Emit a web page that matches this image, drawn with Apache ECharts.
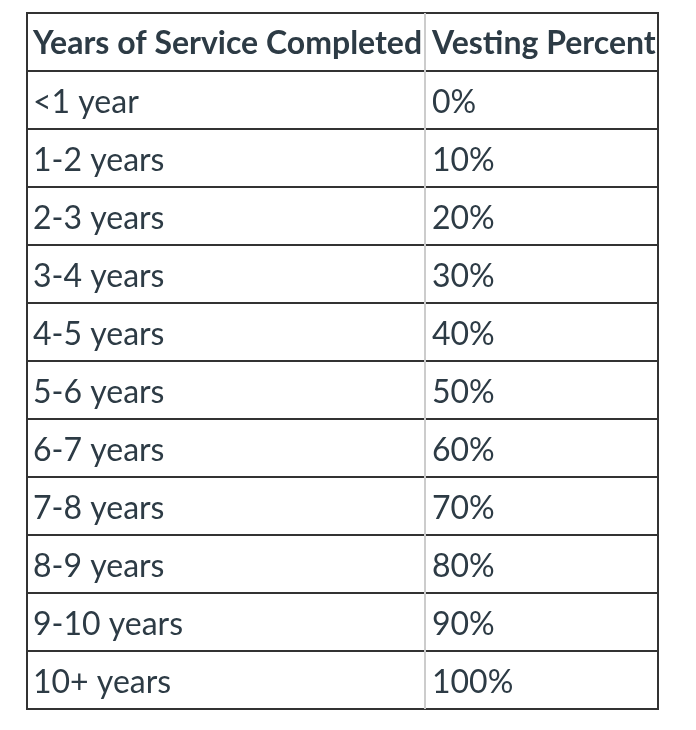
<!DOCTYPE html>
<html>
<head>
<meta charset="utf-8">
<script src="https://cdn.jsdelivr.net/npm/echarts@6/dist/echarts.min.js"></script>
<style>html,body{margin:0;padding:0;background:#fff}#c{width:696px;height:730px}</style>
</head>
<body>
<div id="c"></div>
<script>
// ---- data ----
const headers = ['Years of Service Completed', 'Vesting Percent'];
const years = ['<1 year', '1-2 years', '2-3 years', '3-4 years', '4-5 years', '5-6 years',
               '6-7 years', '7-8 years', '8-9 years', '9-10 years', '10+ years'];
const vesting = [0, 10, 20, 30, 40, 50, 60, 70, 80, 90, 100];

// ---- layout ----
const colEdges = [0, 398, 631];
const TEXT = '#2d3b45';
const DARK = '#333333';
const LIGHT = '#cccccc';

const rowLabels = ['header'].concat(years);
const cells = [];
rowLabels.forEach((r, ri) => {
  for (let c = 0; c < 2; c++) {
    let txt;
    if (ri === 0) txt = headers[c];
    else txt = c === 0 ? years[ri - 1] : vesting[ri - 1] + '%';
    cells.push([c, ri, txt]);
  }
});

const chart = echarts.init(document.getElementById('c'), null, {renderer: 'canvas'});
chart.setOption({
  animation: false,
  backgroundColor: '#fff',
  grid: {left: 27, right: 38, top: 13, bottom: 21},
  xAxis: {type: 'value', min: 0, max: colEdges[2], show: false},
  yAxis: {type: 'category', data: rowLabels, inverse: true, show: false},
  series: [{
    type: 'custom',
    data: cells,
    encode: {x: 0, y: 1},
    renderItem: function (params, api) {
      const c = api.value(0);
      const r = api.value(1);
      const txt = cells[params.dataIndex][2];
      const h = api.size([0, 1])[1];
      const pL = api.coord([colEdges[c], r]);
      const pR = api.coord([colEdges[c + 1], r]);
      const x0 = pL[0], x1 = pR[0];
      const yT = pL[1] - h / 2, yB = pL[1] + h / 2;
      const children = [];
      children.push({type: 'rect', shape: {x: x0, y: yT, width: x1 - x0, height: h},
        style: {fill: '#fff'}, z2: 0});
      children.push({type: 'line', shape: {x1: x0, y1: yT, x2: x1, y2: yT},
        style: {stroke: DARK, lineWidth: 2}, z2: 2});
      if (r === rowLabels.length - 1) {
        children.push({type: 'line', shape: {x1: x0, y1: yB, x2: x1, y2: yB},
          style: {stroke: DARK, lineWidth: 2}, z2: 2});
      }
      if (c === 0) {
        children.push({type: 'line', shape: {x1: x0, y1: yT - 1, x2: x0, y2: yB + 1},
          style: {stroke: DARK, lineWidth: 2}, z2: 4});
      } else {
        children.push({type: 'line', shape: {x1: x0, y1: yT, x2: x0, y2: yB},
          style: {stroke: LIGHT, lineWidth: 2}, z2: 3});
        children.push({type: 'line', shape: {x1: x1, y1: yT - 1, x2: x1, y2: yB + 1},
          style: {stroke: DARK, lineWidth: 2}, z2: 4});
      }
      children.push({type: 'text', x: x0 + (c === 0 ? 6 : 7), y: pL[1] + (r === 0 ? 2 : 3),
        style: {text: txt, fill: TEXT, fontFamily: 'Lato',
          fontSize: 32, fontWeight: r === 0 ? 'bold' : 'normal',
          verticalAlign: 'middle', align: 'left'}, z2: 5});
      return {type: 'group', children: children};
    }
  }]
});
</script>
</body>
</html>
